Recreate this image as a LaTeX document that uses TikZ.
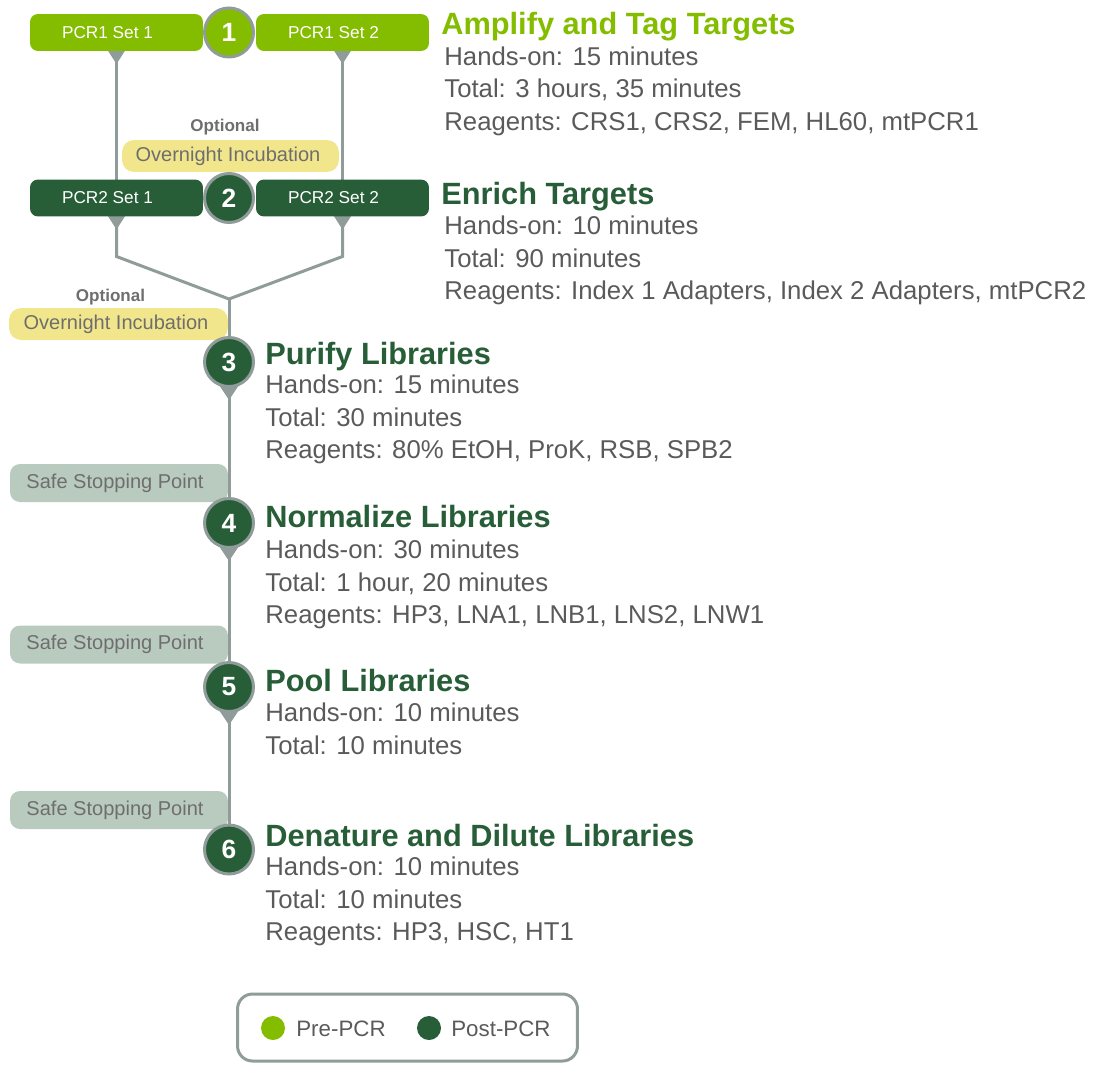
\documentclass[tikz,border=0pt]{standalone}
\usepackage{fontspec}
\setmainfont{Liberation Sans}
\usetikzlibrary{backgrounds}

\definecolor{prepcr}{HTML}{84BC00}
\definecolor{postpcr}{HTML}{275E38}
\definecolor{rim}{HTML}{8F9C99}
\definecolor{optyellow}{HTML}{F2E68C}
\definecolor{safegray}{HTML}{B9CBBF}
\definecolor{bodygray}{HTML}{5A5A5A}
\definecolor{notegray}{HTML}{6E6E6E}

\begin{document}
\begin{tikzpicture}[x=0.02cm, y=-0.02cm,
  stepnum/.style={circle, draw=rim, line width=0.06cm, minimum size=0.98cm,
    inner sep=0pt, outer sep=0pt, text=white, font=\bfseries\fontsize{15}{15}\selectfont},
  pcrbox/.style={rounded corners=0.16cm, minimum width=3.46cm, minimum height=0.74cm,
    inner sep=0pt, outer sep=0pt, text=white, font=\fontsize{9.8}{10}\selectfont},
  optbox/.style={fill=optyellow, rounded corners=0.24cm, minimum height=0.64cm,
    inner sep=0pt, text=notegray, font=\fontsize{11.4}{12}\selectfont},
  optlabel/.style={text=notegray, inner sep=0pt, font=\bfseries\fontsize{9.7}{10}\selectfont},
  safebox/.style={fill=safegray, rounded corners=0.2cm, minimum width=4.36cm,
    minimum height=0.76cm, inner sep=0pt, text=notegray, font=\fontsize{11.4}{12}\selectfont},
  head/.style={anchor=base west, inner sep=0pt, font=\bfseries\fontsize{17.5}{18}\selectfont},
  info/.style={anchor=base west, inner sep=0pt, text=bodygray, font=\fontsize{14.65}{15}\selectfont},
  keytext/.style={anchor=base west, inner sep=0pt, text=bodygray, font=\fontsize{12.7}{13}\selectfont},
  link/.style={draw=rim, line width=0.06cm},
  pin/.style={fill=rim}
]
\useasboundingbox (0,0) rectangle (1097,1064);

% step 1 and 2: two sets each
\node[pcrbox, fill=prepcr] (a1) at (116.5,32.5) {PCR1 Set 1\hspace*{0.36cm}};
\node[pcrbox, fill=prepcr] (b1) at (342.5,32.5) {PCR1 Set 2\hspace*{0.36cm}};
\node[stepnum, fill=prepcr] (s1) at (229,32.5) {1};

\node[optlabel] (opt1) at (225,127) {Optional};
\node[optbox, minimum width=4.34cm] (inc1) at (230.5,156) {Overnight Incubation\hspace*{0.1cm}};

\node[pcrbox, fill=postpcr] (a2) at (116.5,198) {PCR2 Set 1\hspace*{0.36cm}};
\node[pcrbox, fill=postpcr] (b2) at (342.5,198) {PCR2 Set 2\hspace*{0.36cm}};
\node[stepnum, fill=postpcr] (s2) at (229,198) {2};

\coordinate (merge) at (229,299);

\node[optlabel] (opt2) at (110.5,297) {Optional};
\node[optbox, minimum width=4.38cm] (inc2) at (118.5,324) {Overnight Incubation\hspace*{0.1cm}};

% steps 3 to 6
\node[stepnum, fill=postpcr] (s3) at (229,362) {3};
\node[safebox] (stop1) at (119,483) {Safe Stopping Point\hspace*{0.16cm}};
\node[stepnum, fill=postpcr] (s4) at (229,523) {4};
\node[safebox] (stop2) at (119,644.5) {Safe Stopping Point\hspace*{0.16cm}};
\node[stepnum, fill=postpcr] (s5) at (229,687) {5};
\node[safebox] (stop3) at (119,810) {Safe Stopping Point\hspace*{0.16cm}};
\node[stepnum, fill=postpcr] (s6) at (229,849.5) {6};

\begin{scope}[on background layer]
  \draw[link] (a1.south) -- (a2.north);
  \draw[link] (b1.south) -- (b2.north);
  \draw[link] (a2.south) -- ++(0,40) -- (merge);
  \draw[link] (b2.south) -- ++(0,40) -- (merge);
  \draw[link] (merge) -- (s3) -- (s4) -- (s5) -- (s6);
  % pointers under the boxes
  \foreach \b in {a1,b1,a2,b2}
    \fill[pin] ([shift={(-9,-1)}]\b.south) -- ([shift={(9,-1)}]\b.south)
      -- ([shift={(0,13)}]\b.south) -- cycle;
  % pointers under the circles
  \foreach \s in {s3,s4,s5}
    \fill[pin] ([shift={(-12,20)}]\s.center) -- ([shift={(12,20)}]\s.center)
      -- ([shift={(0,38)}]\s.center) -- cycle;
\end{scope}

% texts
\node[head, text=prepcr] (h1) at (441,35) {Amplify and Tag Targets};
\foreach \txt [count=\i] in {{Hands-on: 15 minutes}, {Total: 3 hours, 35 minutes},
    {Reagents: CRS1, CRS2, FEM, HL60, mtPCR1}}
  \node[info] (d1-\i) at (444,{65.5+32.5*(\i-1)}) {\txt};

\node[head, text=postpcr] (h2) at (441,204) {Enrich Targets};
\foreach \txt [count=\i] in {{Hands-on: 10 minutes}, {Total: 90 minutes},
    {Reagents: Index 1 Adapters, Index 2 Adapters, mtPCR2}}
  \node[info] (d2-\i) at (444,{234.5+32.5*(\i-1)}) {\txt};

\node[head, text=postpcr] (h3) at (265,364) {Purify Libraries};
\foreach \txt [count=\i] in {{Hands-on: 15 minutes}, {Total: 30 minutes},
    {Reagents: 80\% EtOH, ProK, RSB, SPB2}}
  \node[info] (d3-\i) at (265,{393.5+32.5*(\i-1)}) {\txt};

\node[head, text=postpcr] (h4) at (265,527) {Normalize Libraries};
\foreach \txt [count=\i] in {{Hands-on: 30 minutes}, {Total: 1 hour, 20 minutes},
    {Reagents: HP3, LNA1, LNB1, LNS2, LNW1}}
  \node[info] (d4-\i) at (265,{558.5+32.5*(\i-1)}) {\txt};

\node[head, text=postpcr] (h5) at (265,691) {Pool Libraries};
\foreach \txt [count=\i] in {{Hands-on: 10 minutes}, {Total: 10 minutes}}
  \node[info] (d5-\i) at (265,{721.5+32.5*(\i-1)}) {\txt};

\node[head, text=postpcr] (h6) at (265,846) {Denature and Dilute Libraries};
\foreach \txt [count=\i] in {{Hands-on: 10 minutes}, {Total: 10 minutes},
    {Reagents: HP3, HSC, HT1}}
  \node[info] (d6-\i) at (265,{875.5+32.5*(\i-1)}) {\txt};

% legend
\node[draw=rim, line width=0.06cm, rounded corners=0.3cm, minimum width=6.8cm,
  minimum height=1.34cm] (key) at (407.5,1027.5) {};
\node[circle, fill=prepcr, minimum size=0.48cm, inner sep=0pt] (kpre) at (273,1028) {};
\node[keytext] (tpre) at (296,1036) {Pre-PCR};
\node[circle, fill=postpcr, minimum size=0.48cm, inner sep=0pt] (kpost) at (429,1028) {};
\node[keytext] (tpost) at (451,1036) {Post-PCR};
\end{tikzpicture}
\end{document}
